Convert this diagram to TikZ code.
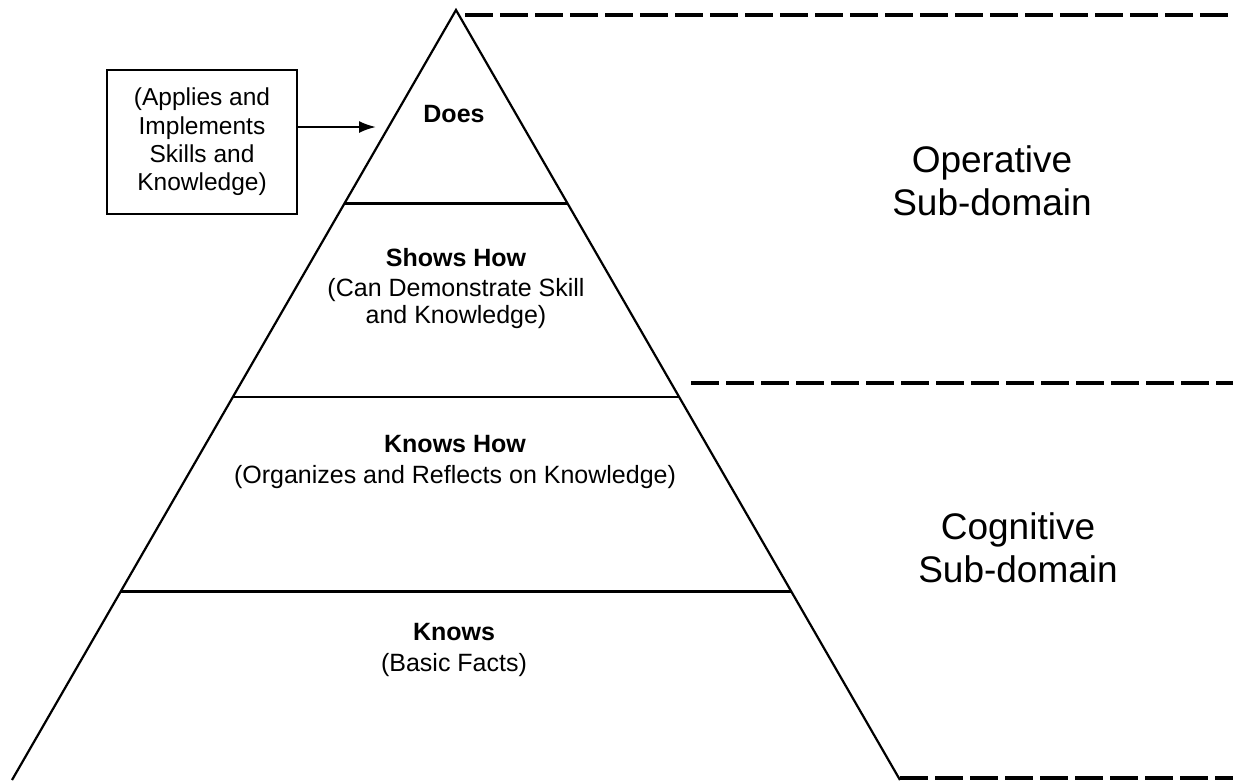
\documentclass[tikz,border=0pt]{standalone}
\usepackage{fontspec}
\setmainfont{Liberation Sans}
\usetikzlibrary{arrows.meta,calc}
\begin{document}
\begin{tikzpicture}[x=1pt,y=-1pt,
  edge/.style={line width=2.2pt,line join=miter},
  dashln/.style={line width=3.2pt,dash pattern=on 28pt off 7pt},
  lvl/.style={anchor=base,inner sep=0pt,font=\fontsize{25}{28}\selectfont},
  big/.style={anchor=base,inner sep=0pt,font=\fontsize{37}{43}\selectfont},
  note/.style={draw,line width=2.4pt,minimum width=190pt,minimum height=144pt,align=center,inner sep=0pt,font=\fontsize{24.5}{28.3}\selectfont},
  arr/.style={line width=2.2pt,-{Latex[length=17pt,width=12pt]}}
]
\useasboundingbox (0,0) rectangle (1233,780);
\fill[white] (0,0) rectangle (1233,780);
% pyramid
\coordinate (apex) at (456,10);
\coordinate (bl) at (12,780);
\coordinate (br) at (900,780);
\draw[edge] (bl) -- (apex) -- (br);
\coordinate (l1) at ($(apex)!0.2513!(bl)$);
\coordinate (r1) at ($(apex)!0.2513!(br)$);
\coordinate (l2) at ($(apex)!0.5026!(bl)$);
\coordinate (r2) at ($(apex)!0.5026!(br)$);
\coordinate (l3) at ($(apex)!0.7552!(bl)$);
\coordinate (r3) at ($(apex)!0.7552!(br)$);
\draw[edge] (l1) -- (r1);
\draw[edge] (l2) -- (r2);
\draw[edge] (l3) -- (r3);
% dashed separators
\coordinate (d1s) at (465,15);
\coordinate (d1e) at (1233,15);
\coordinate (d2s) at (691,383);
\coordinate (d2e) at (1233,383);
\coordinate (d3s) at (900,778);
\coordinate (d3e) at (1233,778);
\draw[dashln] (d1s) -- (d1e);
\draw[dashln] (d2s) -- (d2e);
\draw[dashln] (d3s) -- (d3e);
% level labels
\node[lvl] (does) at (454,122) {\textbf{Does}};
\node[lvl] (shows1) at (456,266) {\textbf{Shows How}};
\node[lvl] (shows2) at (456,296) {(Can Demonstrate Skill};
\node[lvl] (shows3) at (456,323) {and Knowledge)};
\node[lvl] (kh1) at (455,452) {\textbf{Knows How}};
\node[lvl] (kh2) at (455,483) {(Organizes and Reflects on Knowledge)};
\node[lvl] (kn1) at (454,640) {\textbf{Knows}};
\node[lvl] (kn2) at (454,671) {(Basic Facts)};
% sub-domain labels
\node[big] (op1) at (992,172) {Operative};
\node[big] (op2) at (992,215) {Sub-domain};
\node[big] (cg1) at (1018,539) {Cognitive};
\node[big] (cg2) at (1018,582) {Sub-domain};
% note box and arrow
\node[note] (note) at (202,142) {(Applies and\\Implements\\Skills and\\Knowledge)};
\coordinate (tip) at (376,127);
\draw[arr] (note.east |- tip) -- (tip);
\end{tikzpicture}
\end{document}
